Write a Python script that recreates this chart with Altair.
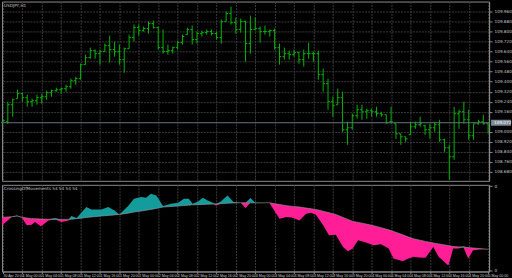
import json
import altair as alt
import pandas as pd

# ---------------- data ----------------
opens = [109.072, 109.080, 109.216, 109.264, 109.304, 109.272, 109.240, 109.248, 109.272, 109.280,
         109.312, 109.328, 109.336, 109.344, 109.360, 109.408, 109.424, 109.536, 109.592, 109.648,
         109.624, 109.640, 109.688, 109.656, 109.640, 109.576, 109.664, 109.752, 109.832, 109.808,
         109.824, 109.864, 109.832, 109.672, 109.640, 109.648, 109.672, 109.712, 109.776, 109.816,
         109.736, 109.784, 109.792, 109.800, 109.784, 109.752, 109.880, 109.944, 109.872, 109.816,
         109.880, 109.704, 109.816, 109.824, 109.800, 109.800, 109.808, 109.672, 109.600, 109.624,
         109.616, 109.632, 109.576, 109.624, 109.624, 109.624, 109.456, 109.384, 109.240, 109.216,
         109.272, 109.016, 109.032, 109.128, 109.176, 109.160, 109.168, 109.160, 109.144, 109.136,
         109.080, 109.064, 108.984, 108.960, 108.976, 109.040, 109.056, 109.048, 109.016, 109.032,
         109.056, 108.936, 108.872, 108.800, 109.144, 109.160, 109.096, 108.968, 109.064, 109.080,
         109.064]
highs = [109.096, 109.240, 109.264, 109.336, 109.312, 109.296, 109.264, 109.296, 109.304, 109.328,
         109.336, 109.352, 109.352, 109.376, 109.424, 109.440, 109.544, 109.616, 109.672, 109.656,
         109.656, 109.704, 109.768, 109.720, 109.696, 109.672, 109.776, 109.856, 109.856, 109.840,
         109.880, 109.888, 109.840, 109.816, 109.696, 109.680, 109.728, 109.776, 109.832, 109.848,
         109.800, 109.808, 109.816, 109.816, 109.800, 109.896, 109.960, 110.000, 109.912, 109.904,
         109.888, 109.928, 109.912, 109.840, 109.848, 109.816, 109.824, 109.704, 109.672, 109.648,
         109.656, 109.640, 109.656, 109.712, 109.640, 109.648, 109.504, 109.424, 109.280, 109.344,
         109.320, 109.080, 109.144, 109.216, 109.216, 109.184, 109.184, 109.200, 109.160, 109.136,
         109.200, 109.064, 108.984, 108.960, 109.080, 109.080, 109.120, 109.056, 109.064, 109.080,
         109.096, 108.944, 108.896, 109.200, 109.176, 109.240, 109.176, 109.064, 109.096, 109.136,
         109.064]
lows = [109.072, 109.064, 109.120, 109.264, 109.240, 109.200, 109.200, 109.216, 109.224, 109.256,
        109.280, 109.320, 109.304, 109.320, 109.344, 109.376, 109.416, 109.536, 109.584, 109.584,
        109.536, 109.640, 109.552, 109.600, 109.536, 109.472, 109.664, 109.720, 109.768, 109.800,
        109.784, 109.824, 109.656, 109.624, 109.616, 109.624, 109.656, 109.696, 109.776, 109.696,
        109.704, 109.760, 109.776, 109.768, 109.736, 109.704, 109.880, 109.856, 109.784, 109.792,
        109.560, 109.624, 109.816, 109.712, 109.776, 109.760, 109.656, 109.536, 109.576, 109.576,
        109.600, 109.544, 109.520, 109.584, 109.560, 109.416, 109.320, 109.176, 109.120, 109.216,
        109.000, 108.896, 109.016, 109.104, 109.096, 109.104, 109.120, 109.120, 109.120, 109.064,
        109.064, 108.944, 108.896, 108.920, 108.976, 109.024, 109.040, 108.976, 108.944, 109.000,
        108.920, 108.840, 108.616, 108.776, 109.024, 109.064, 108.936, 108.936, 109.056, 109.056,
        108.984]
closes = [109.088, 109.216, 109.256, 109.304, 109.272, 109.240, 109.248, 109.272, 109.280, 109.312,
          109.328, 109.336, 109.344, 109.360, 109.408, 109.424, 109.536, 109.592, 109.648, 109.624,
          109.640, 109.688, 109.656, 109.640, 109.576, 109.664, 109.752, 109.832, 109.808, 109.824,
          109.864, 109.832, 109.672, 109.640, 109.648, 109.672, 109.712, 109.760, 109.816, 109.736,
          109.784, 109.792, 109.800, 109.784, 109.752, 109.880, 109.944, 109.872, 109.816, 109.880,
          109.704, 109.816, 109.824, 109.800, 109.800, 109.808, 109.672, 109.600, 109.624, 109.616,
          109.632, 109.576, 109.624, 109.624, 109.624, 109.456, 109.384, 109.240, 109.208, 109.272,
          109.016, 109.032, 109.128, 109.176, 109.160, 109.168, 109.160, 109.144, 109.136, 109.072,
          109.080, 108.984, 108.960, 108.944, 109.040, 109.056, 109.064, 109.016, 109.032, 109.056,
          108.936, 108.872, 108.800, 109.144, 109.160, 109.096, 108.968, 109.064, 109.080, 109.064,
          109.072]

ind_x = [-0.2, 1.8, 2.9, 3.9, 4.9, 5.9, 6.6, 7.8, 9.4, 10.7, 12.1, 13.5, 14.1, 15.2, 17.2, 18.2,
         20.3, 21.7, 23.0, 24.0, 25.8, 27.0, 28.5, 29.5, 30.5, 31.6, 33.0, 34.6, 36.1, 37.3, 38.3,
         39.1, 40.2, 41.2, 42.2, 43.4, 43.9, 44.9, 46.3, 47.5, 49.0, 50.0, 51.0, 52.0, 54.9, 57.0,
         58.4, 59.8, 61.1, 62.5, 63.5, 64.5, 66.0, 67.2, 68.6, 70.1, 71.1, 72.1, 73.2, 74.8, 76.4,
         77.9, 79.5, 80.5, 82.4, 83.6, 84.6, 85.7, 87.1, 88.7, 89.8, 91.8, 92.8, 93.9, 94.9, 95.9,
         96.9, 98.8, 100.0]
ind_fast = [-40.7, -32.3, -30.7, -33.0, -40.7, -40.0, -37.3, -41.7, -35.7, -33.3, -37.3, -35.7,
            -31.3, -33.3, -22.3, -24.7, -24.7, -22.3, -25.7, -30.0, -21.3, -14.0, -12.3, -13.0,
            -9.0, -10.7, -21.3, -19.0, -18.0, -14.0, -14.0, -19.0, -16.7, -13.0, -15.7, -18.3,
            -20.7, -16.7, -10.7, -17.3, -18.0, -23.3, -13.3, -18.0, -18.0, -34.0, -32.3, -33.0,
            -35.7, -29.0, -28.0, -30.0, -40.7, -50.7, -50.0, -62.3, -66.7, -64.0, -55.7, -58.0,
            -60.7, -59.7, -64.0, -74.0, -76.7, -74.0, -72.3, -73.0, -73.3, -62.3, -72.3, -81.0,
            -64.0, -64.0, -61.7, -74.0, -65.7, -64.7, -64.7]
ind_slow = [-32.7, -32.0, -31.3, -32.5, -33.3, -34.0, -34.0, -34.3, -34.6, -34.7, -34.7, -34.7,
            -34.5, -34.0, -32.8, -32.3, -31.3, -30.7, -30.2, -29.7, -28.5, -27.3, -26.3, -25.5,
            -24.7, -23.7, -22.3, -21.8, -21.3, -20.8, -20.4, -20.1, -19.9, -19.7, -19.5, -19.3,
            -19.2, -19.0, -18.5, -18.2, -18.0, -18.0, -18.1, -18.2, -18.0, -19.8, -20.9, -21.7,
            -22.3, -23.3, -24.0, -24.7, -26.5, -28.0, -29.8, -32.8, -34.7, -36.7, -37.7, -39.3,
            -41.0, -43.0, -45.2, -46.8, -50.2, -52.5, -54.2, -55.3, -56.8, -58.4, -59.3, -61.0,
            -61.9, -62.3, -62.7, -63.0, -63.4, -64.2, -64.7]

price_ticks = [109.960, 109.880, 109.800, 109.720, 109.640, 109.560, 109.480, 109.400, 109.320,
               109.240, 109.160, 109.000, 108.920, 108.840, 108.760, 108.680]
current_price = 109.072
time_pos = [0, 4, 8, 12, 16, 20, 24, 28, 32, 36, 40, 44, 48, 52, 56, 60, 64, 68, 72, 76, 80, 84,
            88, 92, 96, 100]
time_labels = ["30 Apr 20:00", "1 May 00:00", "1 May 04:00", "1 May 08:00", "1 May 12:00",
               "1 May 16:00", "1 May 20:00", "2 May 00:00", "2 May 04:00", "2 May 08:00",
               "2 May 12:00", "2 May 16:00", "2 May 20:00", "3 May 00:00", "3 May 04:00",
               "3 May 08:00", "3 May 12:00", "3 May 16:00", "3 May 20:00", "4 May 00:00",
               "4 May 04:00", "4 May 08:00", "4 May 12:00", "4 May 16:00", "4 May 20:00",
               "5 May 00:00"]
ind_ticks = [-1.3, -86.0]
symbol_title = "USDJPY,H1"
ind_title = "CrossingOfMovements 54 54 54 54"

# ---------------- styling ----------------
W = 489
FONT = "DejaVu Sans"
NARROW = "Liberation Sans Narrow, Liberation Sans, DejaVu Sans"
FS = 4.2
FS_T = 3.6
GREEN = "#00b400"
TEAL = "#149b9b"
PINK = "#ff1e96"
GRID = "#3a3a3a"
FRAME = "#8a8a8a"
LBL = "#c8c8c8"

bars = pd.DataFrame({"k": list(range(len(opens))), "o": opens, "h": highs, "l": lows, "c": closes})
ind = pd.DataFrame({"k": ind_x, "f": ind_fast, "s": ind_slow})

xscale = alt.Scale(domain=[-0.2, 100.2], nice=False, zero=False)
top_y = alt.Scale(domain=[108.608, 110.040], nice=False, zero=False)

# identical axis definitions shared by every layer so that they merge cleanly
x_axis_top = alt.Axis(values=time_pos, labels=False, ticks=False, domain=False, grid=True,
                      gridColor=GRID, gridDash=[2, 1], title=None)
y_axis_top = alt.Axis(orient="right", values=price_ticks, format=".3f", grid=True,
                      gridColor=GRID, gridDash=[2, 1], domainColor=FRAME, tickColor=FRAME,
                      tickSize=3, labelFontSize=FS, labelColor=LBL, labelPadding=2,
                      labelOverlap=False, labelBound=False, title=None)

base = alt.Chart(bars)
hl = base.mark_rule(color=GREEN, strokeWidth=1).encode(
    x=alt.X("k:Q", scale=xscale, axis=x_axis_top),
    y=alt.Y("l:Q", scale=top_y, axis=y_axis_top),
    y2="h:Q",
)
otick = base.transform_calculate(xa="datum.k - 0.38").mark_rule(color=GREEN, strokeWidth=1).encode(
    x=alt.X("xa:Q", scale=xscale, axis=x_axis_top), x2="k:Q",
    y=alt.Y("o:Q", scale=top_y, axis=y_axis_top))
ctick = base.transform_calculate(xb="datum.k + 0.38").mark_rule(color=GREEN, strokeWidth=1).encode(
    x=alt.X("k:Q", scale=xscale, axis=x_axis_top), x2="xb:Q",
    y=alt.Y("c:Q", scale=top_y, axis=y_axis_top))

cp = pd.DataFrame({"p": [current_price], "t": [f"{current_price:.3f}"]})
cline = alt.Chart(cp).mark_rule(color="#66727e", strokeWidth=1).encode(
    y=alt.Y("p:Q", scale=top_y, axis=y_axis_top))
cbox = alt.Chart(cp).mark_rect(color="#7d8b99", height=6).encode(
    y=alt.Y("p:Q", scale=top_y, axis=y_axis_top), x=alt.value(W + 2), x2=alt.value(W + 22))
ctext = alt.Chart(cp).mark_text(font=FONT, fontSize=FS, color="#ffffff", align="left",
                                baseline="middle").encode(
    y=alt.Y("p:Q", scale=top_y, axis=y_axis_top), x=alt.value(W + 5), text="t:N")

ttl = alt.Chart(pd.DataFrame({"t": [symbol_title]})).mark_text(
    font=FONT, fontSize=FS, color=LBL, align="left", baseline="top").encode(
    x=alt.value(2), y=alt.value(2), text="t:N")

top = alt.layer(hl, otick, ctick, cline, cbox, ctext, ttl).properties(width=W, height=180)

# ---------------- indicator panel ----------------
ind_y = alt.Scale(domain=[-87, 0], nice=False, zero=False)
x_axis_bot = alt.Axis(values=time_pos, grid=True, gridColor=GRID, gridDash=[2, 1], ticks=True,
                      tickSize=2, tickColor=FRAME, domainColor=FRAME, labelFontSize=FS_T,
                      labelFont=NARROW, labelColor=LBL, labelAlign="left", labelPadding=0,
                      labelFlush=False, labelOverlap=False, labelBound=False, title=None,
                      labelExpr=f"{json.dumps(time_labels)}[round(datum.value / 4)]")
y_axis_bot = alt.Axis(orient="right", values=ind_ticks, grid=False, domainColor=FRAME,
                      tickColor=FRAME, tickSize=3, labelFontSize=FS, labelColor=LBL,
                      labelPadding=2, labelExpr="'0'", title=None)

ib = alt.Chart(ind).transform_calculate(
    hi="max(datum.f, datum.s)", lo="min(datum.f, datum.s)")
xb_enc = alt.X("k:Q", scale=xscale, axis=x_axis_bot)
yb_enc = alt.Y("s:Q", scale=ind_y, axis=y_axis_bot)
teal = ib.mark_area(color=TEAL, opacity=1).encode(x=xb_enc, y=yb_enc, y2="hi:Q")
pink = ib.mark_area(color=PINK, opacity=1).encode(x=xb_enc, y=yb_enc, y2="lo:Q")
sline = ib.mark_line(color="#9a9a9a", strokeWidth=0.6).encode(x=xb_enc, y=yb_enc)
ittl = alt.Chart(pd.DataFrame({"t": [ind_title]})).mark_text(
    font=FONT, fontSize=FS, color=LBL, align="left", baseline="top").encode(
    x=alt.value(2), y=alt.value(2), text="t:N")

bottom = alt.layer(teal, pink, sline, ittl).properties(width=W, height=87)

chart = alt.vconcat(top, bottom, spacing=1).configure(
    background="#000000", padding=0, font=FONT
).configure_view(stroke=FRAME, strokeWidth=1)

chart.save("out.html", embed_options={"renderer": "svg", "actions": False})
